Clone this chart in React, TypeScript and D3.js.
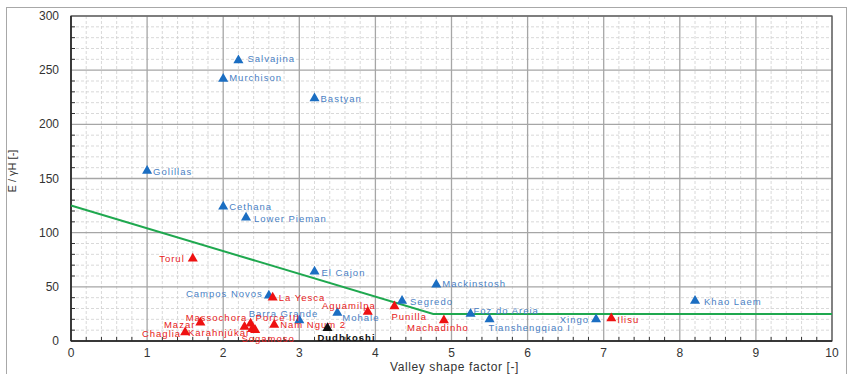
import React from "react";
import * as d3 from "d3";

const W = 849;
const H = 374;

const xTicks = [0, 1, 2, 3, 4, 5, 6, 7, 8, 9, 10];
const yTicks = [0, 50, 100, 150, 200, 250, 300];

const blueNames = ["Salvajina", "Murchison", "Bastyan", "Golillas", "Cethana", "Lower Pieman", "El Cajon", "Mackinstosh", "Segredo", "Campos Novos", "Foz do Areia", "Tianshengqiao I", "Xingo", "Khao Laem", "Barra Grande", "Mohale"];
const blueX = [2.2, 2.0, 3.2, 1.0, 2.0, 2.3, 3.2, 4.8, 4.35, 2.6, 5.25, 5.5, 6.9, 8.2, 3.0, 3.5];
const blueY = [259, 242, 224, 157, 124, 114, 64, 52, 37, 42, 25, 20, 20, 37, 19, 26];

const redNames = ["Torul", "La Yesca", "Aguamilpa", "Punilla", "Machadinho", "Ilisu", "Mazar", "Massochora", "Porce III", "Karahnjúkar", "Sogamoso", "Nam Ngum 2", "Chaglia"];
const redX = [1.6, 2.65, 3.9, 4.25, 4.9, 7.1, 1.7, 2.28, 2.36, 2.38, 2.42, 2.67, 1.5];
const redY = [76, 40, 27, 32, 19, 21, 17, 13, 16, 11, 10, 15, 8];

const blackNames = ["Dudhkoshi"];
const blackX = [3.37];
const blackY = [12];

const limitX = [0, 4.76, 10];
const limitY = [125, 25, 25];

// label placement: [dx, dy, anchor]
const labelPos: Record<string, [number, number, string]> = {
  Salvajina: [9, -2, "start"],
  Murchison: [6, -1, "start"],
  Bastyan: [6, 0, "start"],
  Golillas: [6, 1, "start"],
  Cethana: [6, 0, "start"],
  "Lower Pieman": [8, 1, "start"],
  "El Cajon": [7, 1, "start"],
  Mackinstosh: [6, -1, "start"],
  Segredo: [8, 1, "start"],
  "Campos Novos": [-6, -2, "end"],
  "Foz do Areia": [3, -3, "start"],
  "Tianshengqiao I": [-1, 8, "start"],
  Xingo: [-7, 0, "end"],
  "Khao Laem": [9, 1, "start"],
  "Barra Grande": [19, -7, "end"],
  Mohale: [5, 5, "start"],
  Torul: [-8, 0, "end"],
  "La Yesca": [6, 0, "start"],
  Aguamilpa: [8, -6, "end"],
  Punilla: [-3, 10, "start"],
  Machadinho: [-6, 7, "middle"],
  Ilisu: [6, 1, "start"],
  Mazar: [-5, 2, "end"],
  Massochora: [-28, -9, "middle"],
  "Porce III": [5, -6, "start"],
  "Karahnjúkar": [-2, 3, "end"],
  Sogamoso: [13, 8, "middle"],
  "Nam Ngum 2": [6, 0, "start"],
  Chaglia: [-4, 1, "end"],
  Dudhkoshi: [-10, 9, "start"],
};

const M = { left: 71, right: 832, top: 16, bottom: 341 };

export default function App() {
  const x = d3.scaleLinear().domain([0, 10]).range([M.left, M.right]);
  const y = d3.scaleLinear().domain([0, 300]).range([M.bottom, M.top]);
  const tri = d3.symbol().type(d3.symbolTriangle).size(44)()!;
  const minorX = d3.range(0, 10.001, 0.2).filter((v) => Math.abs(v - Math.round(v)) > 1e-6);
  const minorY = d3.range(0, 300.001, 10).filter((v) => v % 50 !== 0);
  const line = d3
    .line<number>()
    .x((_, i) => x(limitX[i]))
    .y((_, i) => y(limitY[i]));

  const series = [
    { names: blueNames, xs: blueX, ys: blueY, fill: "#1b6ec2", text: "#4a7fc4", weight: "normal" },
    { names: redNames, xs: redX, ys: redY, fill: "#ee1111", text: "#e62020", weight: "normal" },
    { names: blackNames, xs: blackX, ys: blackY, fill: "#111111", text: "#111111", weight: "bold" },
  ];

  return (
    <svg width={W} height={H} style={{ position: "absolute", left: 0, top: 0, background: "#fff" }} fontFamily="Liberation Sans, Arial, sans-serif">
      <rect x={6.5} y={7.5} width={840} height={372} fill="none" stroke="#a8a8a8" />
      {minorX.map((v, i) => (
        <line key={"mx" + i} x1={x(v)} x2={x(v)} y1={M.top} y2={M.bottom} stroke="#cfcfcf" strokeDasharray="3,2" strokeWidth={0.8} />
      ))}
      {minorY.map((v, i) => (
        <line key={"my" + i} x1={M.left} x2={M.right} y1={y(v)} y2={y(v)} stroke="#cfcfcf" strokeDasharray="3,2" strokeWidth={0.8} />
      ))}
      {xTicks.map((v) => (
        <line key={"gx" + v} x1={x(v)} x2={x(v)} y1={M.top} y2={M.bottom} stroke="#a6a6a6" strokeWidth={1.3} />
      ))}
      {yTicks.map((v) => (
        <line key={"gy" + v} x1={M.left} x2={M.right} y1={y(v)} y2={y(v)} stroke="#a6a6a6" strokeWidth={1.3} />
      ))}
      {minorX.map((v, i) => (
        <line key={"tx" + i} x1={x(v)} x2={x(v)} y1={M.bottom} y2={M.bottom - 4} stroke="#333" />
      ))}
      {minorY.map((v, i) => (
        <line key={"ty" + i} x1={M.left} x2={M.left + 4} y1={y(v)} y2={y(v)} stroke="#333" />
      ))}
      <rect x={M.left} y={M.top} width={M.right - M.left} height={M.bottom - M.top} fill="none" stroke="#555" strokeWidth={1.2} />
      <line x1={M.left} x2={M.right} y1={M.bottom} y2={M.bottom} stroke="#222" strokeWidth={1.5} />
      <line x1={M.left} x2={M.left} y1={M.top} y2={M.bottom} stroke="#222" strokeWidth={1.5} />
      {xTicks.map((v) => (
        <text key={"lx" + v} x={x(v)} y={M.bottom + 16} textAnchor="middle" fontSize={12} fill="#333">
          {v}
        </text>
      ))}
      {yTicks.map((v) => (
        <text key={"ly" + v} x={M.left - 12} y={y(v) + 4} textAnchor="end" fontSize={12} fill="#333">
          {v}
        </text>
      ))}
      <text x={(M.left + M.right) / 2 + 3} y={371} textAnchor="middle" fontSize={12} fill="#333" letterSpacing={0.6}>
        Valley shape factor [-]
      </text>
      <text transform="translate(16, 171) rotate(-90)" textAnchor="middle" fontSize={11} fill="#333">
        E / γH [-]
      </text>
      <path d={line(limitX) || ""} fill="none" stroke="#1fa84f" strokeWidth={2} />
      {series.map((s, si) =>
        s.names.map((n, i) => {
          const px = x(s.xs[i]);
          const py = y(s.ys[i]);
          const [dx, dy, anchor] = labelPos[n] || [6, 0, "start"];
          return (
            <g key={si + "-" + n}>
              <path d={tri} transform={`translate(${px},${py})`} fill={s.fill} />
              <text x={px + dx} y={py + dy + 3.5} textAnchor={anchor} fontSize={9.5} letterSpacing={1} fill={s.text} fontWeight={s.weight}>
                {n}
              </text>
            </g>
          );
        })
      )}
    </svg>
  );
}
